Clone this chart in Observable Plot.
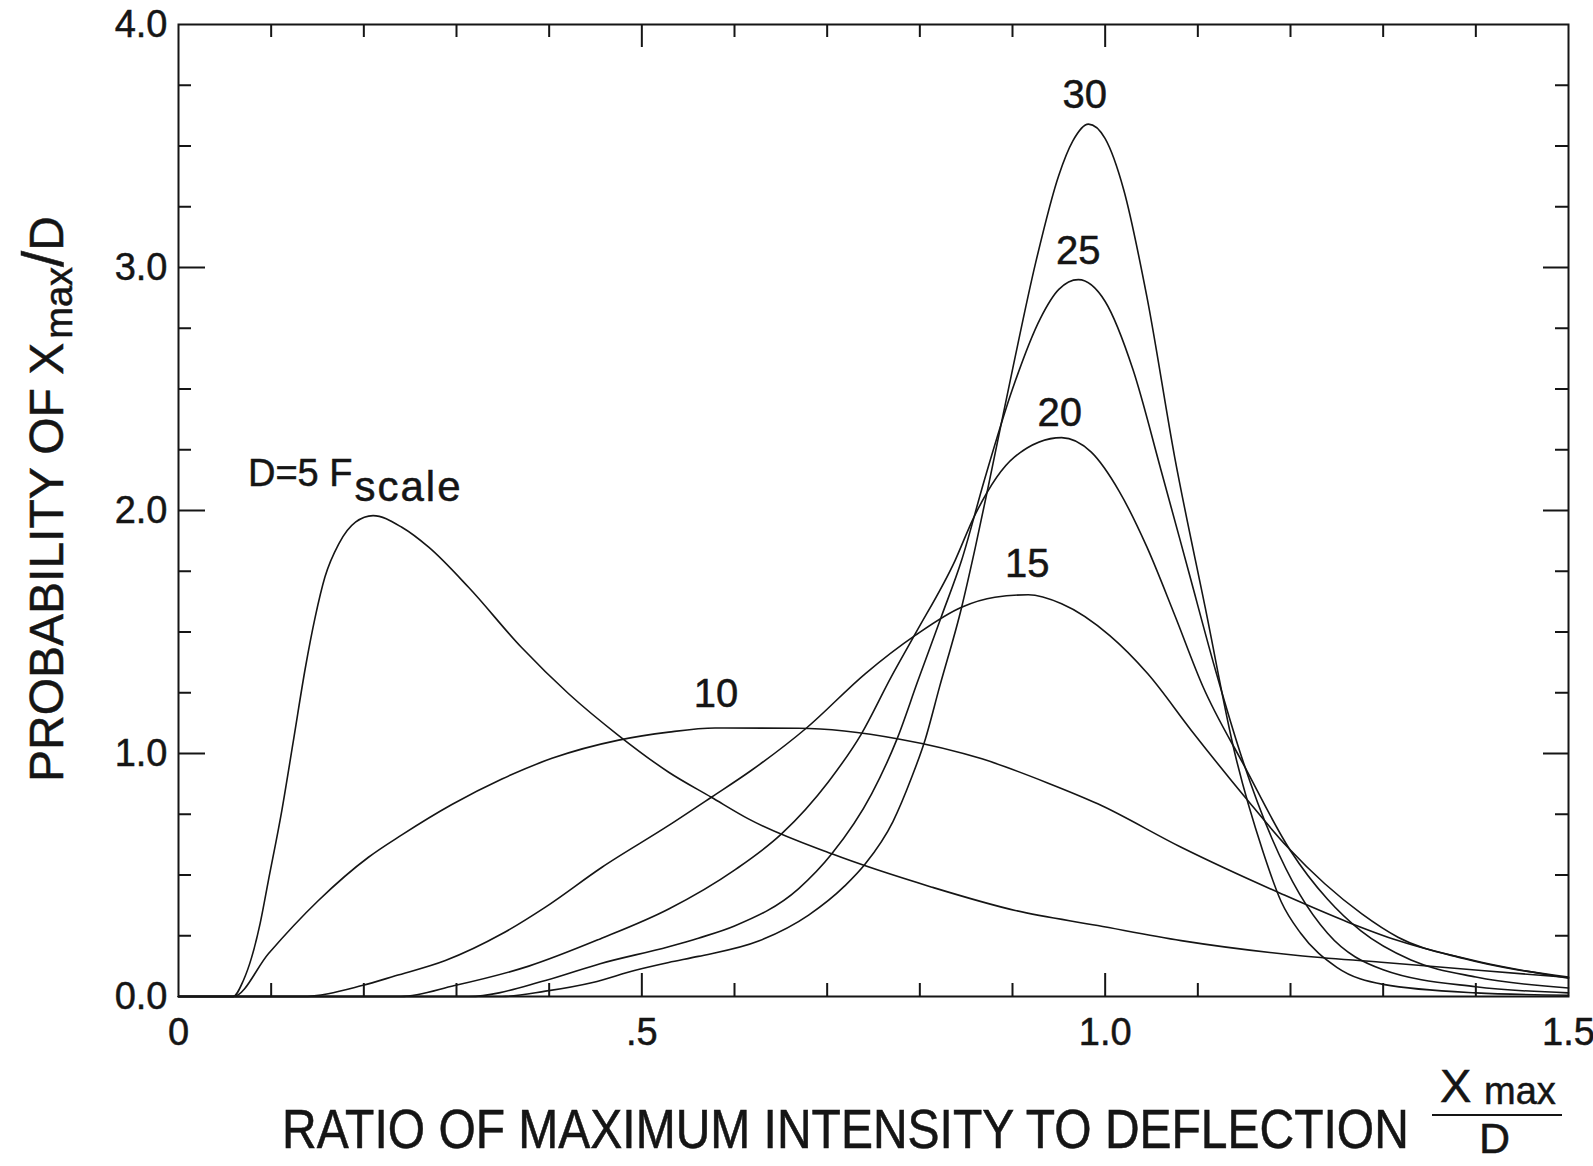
<!DOCTYPE html>
<html>
<head>
<meta charset="utf-8">
<script src="https://cdn.jsdelivr.net/npm/d3@7"></script>
<script src="https://cdn.jsdelivr.net/npm/@observablehq/plot@0.6"></script>
<style>
  html, body { margin: 0; padding: 0; background: #fff; }
  svg { display: block; }
  svg text { stroke: #151515; stroke-width: 0.5px; }
</style>
</head>
<body>
<div id="chart"></div>
<script>
// Probability density of Xmax/D for several deflections D (F scale)
const x5  = [0, 0.059, 0.070, 0.079, 0.088, 0.097, 0.1115, 0.124, 0.137, 0.1475, 0.158, 0.173, 0.191, 0.210, 0.241, 0.270, 0.313, 0.370, 0.421, 0.475, 0.529, 0.575, 0.615, 0.705, 0.813, 0.903, 0.992, 1.082, 1.208, 1.298, 1.406, 1.5];
const y5  = [0, 0, 0.066, 0.162, 0.299, 0.477, 0.765, 1.053, 1.355, 1.561, 1.726, 1.863, 1.952, 1.979, 1.931, 1.849, 1.684, 1.437, 1.246, 1.074, 0.923, 0.820, 0.731, 0.587, 0.450, 0.354, 0.292, 0.230, 0.169, 0.141, 0.107, 0.078];

const x10 = [0, 0.059, 0.097, 0.151, 0.205, 0.241, 0.295, 0.349, 0.403, 0.475, 0.529, 0.579, 0.669, 0.777, 0.867, 0.9385, 0.992, 1.082, 1.190, 1.262, 1.316, 1.406, 1.5];
const y10 = [0, 0, 0.176, 0.395, 0.573, 0.665, 0.790, 0.895, 0.980, 1.055, 1.088, 1.105, 1.104, 1.060, 0.978, 0.878, 0.793, 0.614, 0.423, 0.306, 0.230, 0.141, 0.075];

const x15 = [0, 0.133, 0.198, 0.234, 0.288, 0.349, 0.396, 0.457, 0.529, 0.575, 0.618, 0.678, 0.741, 0.795, 0.845, 0.881, 0.917, 0.953, 1.005, 1.046, 1.093, 1.151, 1.197, 1.237, 1.277, 1.316, 1.388, 1.5];
const y15 = [0, 0, 0.045, 0.085, 0.148, 0.258, 0.368, 0.532, 0.704, 0.820, 0.930, 1.106, 1.328, 1.486, 1.602, 1.643, 1.653, 1.616, 1.485, 1.328, 1.095, 0.820, 0.614, 0.464, 0.340, 0.244, 0.155, 0.080];

const x20 = [0, 0.240, 0.298, 0.378, 0.455, 0.529, 0.600, 0.651, 0.701, 0.737, 0.769, 0.795, 0.838, 0.858, 0.902, 0.953, 0.985, 1.015, 1.045, 1.075, 1.105, 1.150, 1.200, 1.240, 1.276, 1.330, 1.400, 1.5];
const y20 = [0, 0, 0.045, 0.125, 0.237, 0.360, 0.520, 0.670, 0.882, 1.081, 1.314, 1.492, 1.794, 1.970, 2.220, 2.300, 2.240, 2.080, 1.850, 1.570, 1.280, 0.950, 0.600, 0.400, 0.270, 0.150, 0.080, 0.035];

const x25 = [0, 0.313, 0.396, 0.455, 0.529, 0.561, 0.600, 0.669, 0.705, 0.748, 0.775, 0.798, 0.823, 0.845, 0.870, 0.900, 0.930, 0.950, 0.971, 1.000, 1.030, 1.060, 1.090, 1.120, 1.146, 1.180, 1.210, 1.240, 1.300, 1.400, 1.5];
const y25 = [0, 0, 0.066, 0.135, 0.205, 0.240, 0.290, 0.443, 0.587, 0.834, 1.056, 1.300, 1.561, 1.794, 2.130, 2.500, 2.790, 2.910, 2.950, 2.860, 2.580, 2.170, 1.750, 1.330, 1.000, 0.650, 0.420, 0.260, 0.110, 0.040, 0.015];

const x30 = [0, 0.349, 0.396, 0.447, 0.493, 0.529, 0.561, 0.626, 0.680, 0.719, 0.741, 0.771, 0.791, 0.806, 0.821, 0.845, 0.860, 0.875, 0.900, 0.925, 0.950, 0.965, 0.982, 1.000, 1.020, 1.045, 1.075, 1.108, 1.140, 1.170, 1.190, 1.211, 1.250, 1.300, 1.400, 1.5];
const y30 = [0, 0, 0.022, 0.058, 0.108, 0.140, 0.165, 0.228, 0.335, 0.455, 0.545, 0.720, 0.900, 1.060, 1.270, 1.600, 1.850, 2.120, 2.580, 3.020, 3.380, 3.520, 3.590, 3.530, 3.320, 2.880, 2.220, 1.600, 1.000, 0.600, 0.390, 0.260, 0.120, 0.050, 0.015, 0.005];

// Curve labels
const labelText = ["30", "25", "20", "15", "10"];
const labelX    = [0.978, 0.971, 0.951, 0.916, 0.580];
const labelY    = [3.71, 3.066, 2.40, 1.78, 1.246];

// Axis ticks
const xTickValues = [0, 0.5, 1.0, 1.5];
const xTickLabels = ["0", ".5", "1.0", "1.5"];
const yTickValues = [0, 1, 2, 3, 4];
const yTickLabels = ["0.0", "1.0", "2.0", "3.0", "4.0"];

const series = [
  {D: 5, xs: x5, ys: y5},
  {D: 10, xs: x10, ys: y10},
  {D: 15, xs: x15, ys: y15},
  {D: 20, xs: x20, ys: y20},
  {D: 25, xs: x25, ys: y25},
  {D: 30, xs: x30, ys: y30}
];
const rows = series.flatMap(s => s.xs.map((x, i) => ({D: s.D, x, y: s.ys[i]})));
const labels = labelText.map((t, i) => ({text: t, x: labelX[i], y: labelY[i]}));

const W = 1593, H = 1166;
const M = {top: 24, right: 25, bottom: 170, left: 178};
const innerW = W - M.left - M.right;
const innerH = H - M.top - M.bottom;

const xMinor = d3.range(1, 15).map(i => i / 10).filter(v => Math.abs(v - 0.5) > 1e-9 && Math.abs(v - 1) > 1e-9);
const xMajor = [0.5, 1.0];
const yMinor = d3.range(1, 16).map(i => i / 4).filter(v => v % 1 !== 0);
const yMajor = [1, 2, 3];

const ink = "#151515";
const font = "'Liberation Sans', Arial, Helvetica, sans-serif";

const chart = Plot.plot({
  width: W,
  height: H,
  marginTop: M.top,
  marginRight: M.right,
  marginBottom: M.bottom,
  marginLeft: M.left,
  x: {domain: [0, 1.5]},
  y: {domain: [0, 4]},
  style: {fontFamily: font, fontSize: "38px", color: ink, background: "#fff", overflow: "visible"},
  marks: [
    Plot.line(rows, {x: "x", y: "y", z: "D", curve: "monotone-x", stroke: ink, strokeWidth: 1.6}),
    // inward ticks on all four sides
    Plot.tickX(xMinor, {x: d => d, insetTop: innerH - 13, stroke: ink, strokeWidth: 2}),
    Plot.tickX(xMinor, {x: d => d, insetBottom: innerH - 13, stroke: ink, strokeWidth: 2}),
    Plot.tickX(xMajor, {x: d => d, insetTop: innerH - 23, stroke: ink, strokeWidth: 2}),
    Plot.tickX(xMajor, {x: d => d, insetBottom: innerH - 23, stroke: ink, strokeWidth: 2}),
    Plot.tickY(yMinor, {y: d => d, insetRight: innerW - 13, stroke: ink, strokeWidth: 2}),
    Plot.tickY(yMinor, {y: d => d, insetLeft: innerW - 13, stroke: ink, strokeWidth: 2}),
    Plot.tickY(yMajor, {y: d => d, insetRight: innerW - 27, stroke: ink, strokeWidth: 2}),
    Plot.tickY(yMajor, {y: d => d, insetLeft: innerW - 25, stroke: ink, strokeWidth: 2}),
    Plot.frame({stroke: ink, strokeWidth: 2}),
    Plot.axisX({ticks: xTickValues, tickFormat: d => xTickLabels[xTickValues.indexOf(d)], tickSize: 0, tickPadding: 22, fontSize: 38, label: null}),
    Plot.axisY({ticks: yTickValues, tickFormat: d => yTickLabels[yTickValues.indexOf(d)], tickSize: 0, tickPadding: 11, fontSize: 38, label: null}),
    Plot.text(labels, {x: "x", y: "y", text: "text", fontSize: 40, fill: ink})
  ]
});

document.getElementById("chart").appendChild(chart);

const svg = d3.select(chart);
const sx = chart.scale("x"), sy = chart.scale("y");

function addText(x, y, size, str) {
  return svg.append("text")
    .attr("x", x).attr("y", y)
    .attr("text-anchor", "start")
    .attr("font-family", font).attr("font-size", size).attr("fill", ink)
    .text(str);
}

// D=5 F(scale) annotation
const ann = addText(sx.apply(0.0755), sy.apply(2.10), 38, "D=5 F");
ann.append("tspan").attr("dy", 15).attr("dx", 2).attr("font-size", 42).attr("letter-spacing", 2).text("scale");

// y-axis title
const yt = svg.append("text")
  .attr("transform", "translate(63,782) rotate(-90)")
  .attr("text-anchor", "start")
  .attr("font-family", font).attr("font-size", 48).attr("fill", ink);
yt.append("tspan").text("PROBABILITY OF X");
yt.append("tspan").attr("dy", 9).attr("dx", 4).attr("font-size", 38).text("max");
yt.append("tspan").attr("dy", -9).attr("font-size", 58).text("/");
yt.append("tspan").attr("font-size", 48).text("D");

// x-axis title with fraction
svg.append("text")
  .attr("transform", "translate(282,1148) scale(1,1.14)")
  .attr("text-anchor", "start")
  .attr("font-family", font).attr("font-size", 48).attr("fill", ink)
  .text("RATIO OF MAXIMUM INTENSITY TO DEFLECTION");
addText(1440, 1102, 47, "X");
addText(1484, 1104, 38, "max");
svg.append("line")
  .attr("x1", 1432).attr("x2", 1562).attr("y1", 1115).attr("y2", 1115)
  .attr("stroke", ink).attr("stroke-width", 2);
addText(1479, 1153, 43, "D");
</script>
</body>
</html>
